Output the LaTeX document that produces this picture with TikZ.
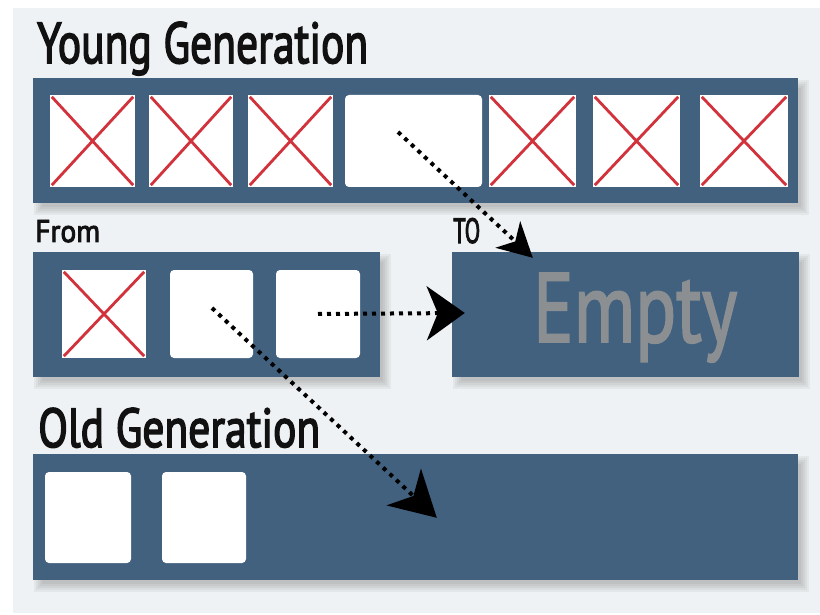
\documentclass[tikz,border=0pt]{standalone}
\usepackage{fontspec}
\setmainfont{PT Sans}
\newfontfamily\headfont{PT Sans}[FakeBold=3]
\newfontfamily\fillfont{PT Sans}[FakeBold=2]
\usepackage{graphicx}
\usetikzlibrary{arrows.meta,fit}

\pgfdeclarelayer{back}
\pgfsetlayers{back,main}

\definecolor{barblue}{HTML}{41617F}
\definecolor{panelgray}{HTML}{EFF2F4}
\definecolor{xred}{HTML}{D2323C}
\definecolor{emptygray}{HTML}{8C8F92}
\definecolor{ink}{HTML}{111111}

% text squeezed to a given width and cap height (both in pt)
\newcommand{\sizedtext}[3]{\resizebox{#1pt}{#2pt}{#3}}

\tikzset{
  heap/.style={fill=barblue, inner sep=0pt},
  liveslot/.style={fill=white, inner sep=0pt, rounded corners=4pt},
  deadslot/.style={fill=white, inner sep=0pt},
  cross/.style={draw=xred, line width=2.8pt},
  tag/.style={inner sep=0pt, anchor=base west, text=ink, font=\headfont},
  move/.style={draw=black, line width=4pt, dash pattern=on 4pt off 5pt},
}

\newcommand{\crossout}[1]{%
  \draw[cross] ([shift={(2,2)}]#1.north west) -- ([shift={(-2,-2)}]#1.south east)
               ([shift={(-2,2)}]#1.north east) -- ([shift={(2,-2)}]#1.south west);}

\begin{document}
\begin{tikzpicture}[x=1pt,y=-1pt]
\useasboundingbox (0,0) rectangle (820,615);

% heap spaces
\node[heap, fit={(33,78) (798,203)}] (young) {};
\node[heap, fit={(33,252) (380,377)}] (fromSpace) {};
\node[heap, fit={(452,252) (799,377)}] (toSpace) {};
\node[heap, fit={(33,454) (798,580)}] (old) {};

% young generation slots
\node[deadslot, fit={(50,95) (135,187)}] (y1) {};
\node[deadslot, fit={(149,95) (233,187)}] (y2) {};
\node[deadslot, fit={(248,95) (333,187)}] (y3) {};
\node[liveslot, fit={(345,95) (482,187)}] (y4) {};
\node[deadslot, fit={(489,95) (576,187)}] (y5) {};
\node[deadslot, fit={(593,95) (680,187)}] (y6) {};
\node[deadslot, fit={(700,95) (788,187)}] (y7) {};
\crossout{y1}\crossout{y2}\crossout{y3}
\crossout{y5}\crossout{y6}\crossout{y7}

% survivor "from" space slots
\node[deadslot, fit={(62,270) (146,358)}] (f1) {};
\node[liveslot, fit={(170,270) (253,358)}] (f2) {};
\node[liveslot, fit={(276,270) (360,358)}] (f3) {};
\crossout{f1}

% old generation slots
\node[liveslot, fit={(45,472) (131,563)}] (o1) {};
\node[liveslot, fit={(162,472) (246,563)}] (o2) {};

% labels
\node[tag] (youngLabel) at (37,63) {\sizedtext{331}{41}{Young Generation}};
\node[tag] (fromLabel) at (35,242) {\sizedtext{65}{22}{From}};
\node[tag] (toLabel) at (453,243) {\sizedtext{27}{25}{TO}};
\node[tag, text=emptygray, font=\fillfont] (emptyLabel) at (533,342) {\sizedtext{204}{69}{Empty}};
\node[tag] (oldLabel) at (38,447) {\sizedtext{282}{39}{Old Generation}};

% copy paths
\coordinate (a1s) at ([shift={(-15.5,-9)}]y4.center);
\coordinate (a1e) at ([shift={(81,6)}]toSpace.north west);
\coordinate (a2e) at ([shift={(13,-1.5)}]toSpace.west);
\coordinate (a3s) at ([shift={(0.5,-6)}]f2.center);
\coordinate (a3e) at ([shift={(404,64)}]old.north west);

\draw[move, -{Stealth[length=34pt,width=36pt,inset=10pt]}] (a1s) -- (a1e);
\draw[move, -{Stealth[length=38pt,width=54pt,inset=11pt]}] (f3.center) -- (a2e);
\draw[move, -{Stealth[length=45pt,width=50pt,inset=13pt]}] (a3s) -- (a3e);

% panel and soft drop shadows
\begin{pgfonlayer}{back}
  \fill[panelgray] (13,8) rectangle (820,613);
  \foreach \n in {young,fromSpace,toSpace,old}{
    \foreach \s in {-3,-1,1,3,5}{
      \fill[black,opacity=0.045]
        ([shift={(6-\s,7-\s)}]\n.north west) rectangle ([shift={(6+\s,7+\s)}]\n.south east);
    }
  }
\end{pgfonlayer}
\end{tikzpicture}
\end{document}
